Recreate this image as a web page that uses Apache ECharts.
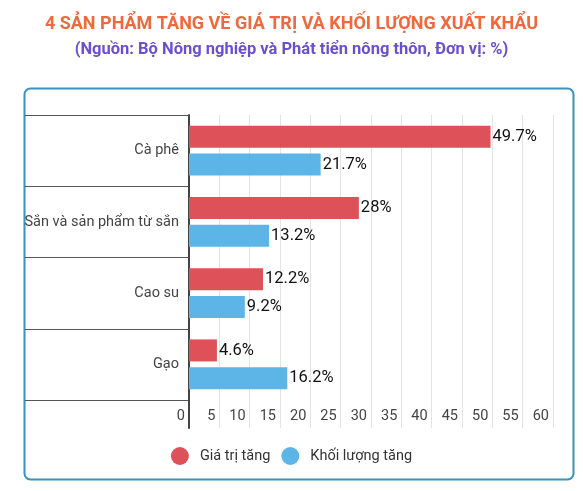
<!DOCTYPE html>
<html><head><meta charset="utf-8">
<script src="https://cdn.jsdelivr.net/npm/echarts@6/dist/echarts.min.js"></script>
<style>html,body{margin:0;padding:0;background:#fff}#c{width:583px;height:491px}</style>
</head><body><div id="c"></div>
<script>
const categories = ['Cà phê', 'Sắn và sản phẩm từ sắn', 'Cao su', 'Gạo'];
const seriesNames = ['Giá trị tăng', 'Khối lượng tăng'];
const giaTri = [49.7, 28, 12.2, 4.6];
const khoiLuong = [21.7, 13.2, 9.2, 16.2];
const xTicks = { min: 0, max: 60, interval: 5 };

const chart = echarts.init(document.getElementById('c'), null, { renderer: 'canvas' });
const FONT = 'Roboto';
const labelCfg = { show: true, position: 'right', distance: 2, formatter: p => p.value + '%', color: '#111', fontSize: 16.5, fontFamily: FONT };
chart.setOption({
  animation: false,
  textStyle: { fontFamily: FONT },
  title: [
    { text: '4 SẢN PHẨM TĂNG VỀ GIÁ TRỊ VÀ KHỐI LƯỢNG XUẤT KHẨU', left: 'center', top: 10,
      textStyle: { color: '#f0683c', fontSize: 18, fontWeight: 'bold', fontFamily: FONT } },
    { text: '(Nguồn: Bộ Nông nghiệp và Phát tiển nông thôn, Đơn vị: %)', left: 'center', top: 36,
      textStyle: { color: '#6a50cf', fontSize: 16.5, fontWeight: 'bold', fontFamily: FONT } }
  ],
  graphic: [{ type: 'rect', left: 22, top: 86, shape: { width: 549, height: 391, r: 6 }, z: -10,
    style: { fill: 'none', stroke: '#3a92bf', lineWidth: 2 } }],
  legend: { bottom: 21, left: 'center', icon: 'circle', itemWidth: 18, itemHeight: 18, itemGap: 11,
    textStyle: { fontSize: 14.5, color: '#333', fontFamily: FONT, padding: [0, 0, 0, 6] }, data: seriesNames },
  grid: [
    { left: 189, right: 30, top: 115, bottom: 91 },
    { left: 189, right: 30, top: 400, height: 28 }
  ],
  xAxis: [
    { type: 'value', gridIndex: 0, min: xTicks.min, max: xTicks.max, interval: xTicks.interval,
      axisLine: { show: false },
      axisTick: { show: true, length: 28, lineStyle: { color: '#e3e3e3' } },
      splitLine: { show: true, lineStyle: { color: '#e3e3e3' } },
      axisLabel: { align: 'right', padding: [0, 4, 0, 0], margin: 9, fontSize: 14.5, color: '#444', fontFamily: FONT } },
    { type: 'value', gridIndex: 1, show: false, min: 0, max: 60 }
  ],
  yAxis: [
    { type: 'category', gridIndex: 0, inverse: true, data: categories,
      axisLine: { show: true, lineStyle: { color: '#444', width: 2 } },
      axisTick: { show: true, length: 164, lineStyle: { color: '#555', width: 1.2 } },
      axisLabel: { margin: 10, fontSize: 14.5, color: '#444', fontFamily: FONT } },
    { type: 'category', gridIndex: 1, data: [''], z: 5,
      axisLine: { show: true, lineStyle: { color: '#444', width: 2 } },
      axisTick: { show: false }, axisLabel: { show: false } }
  ],
  series: [
    { name: seriesNames[0], type: 'bar', xAxisIndex: 0, yAxisIndex: 0, data: giaTri, barWidth: 22, barGap: '27%',
      itemStyle: { color: '#df5158' }, label: labelCfg },
    { name: seriesNames[1], type: 'bar', xAxisIndex: 0, yAxisIndex: 0, data: khoiLuong, barWidth: 22, barGap: '27%',
      itemStyle: { color: '#5cb5e6' }, label: labelCfg }
  ]
});
</script></body></html>
